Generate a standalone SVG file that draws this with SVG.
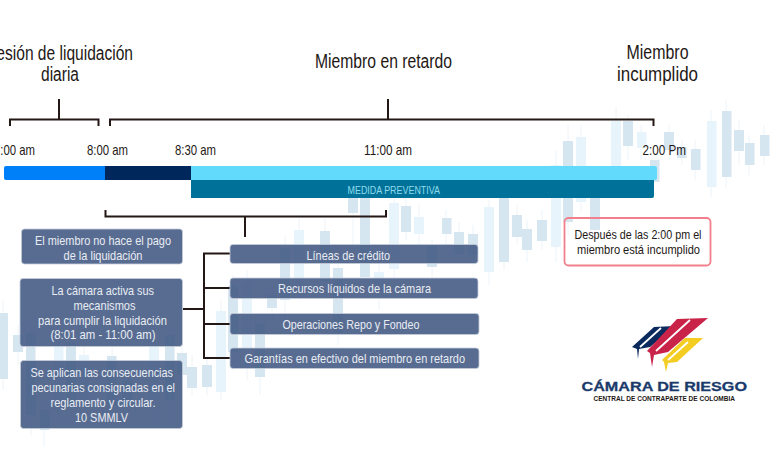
<svg xmlns="http://www.w3.org/2000/svg" width="773" height="471" viewBox="0 0 773 471">
<style>
text{font-family:"Liberation Sans",Arial,sans-serif;text-anchor:start}
.d{fill:#d6e6f1}
.l{fill:#e8f4fb}
.w{stroke:#eef4f9;stroke-width:1;fill:none}
.title{font-size:19.500px;fill:#231815}
.time{font-size:15px;fill:#231815}
.box{fill:#3c5480;fill-opacity:.86;stroke:#c5cdd9;stroke-width:.8}
.bt{font-size:13.500px;fill:#e9edf3}
.line{stroke:#231815;stroke-width:2;fill:none}
.rt{font-size:13px;fill:#231815}
</style>
<rect width="773" height="471" fill="#ffffff"/>
<g id="background">
<path class="w" d="M616 107V190M628 115V160M641 125V160M669 125V160M682 140V165M695 140V180M711 110V197M726 100V188M739 120V165M749 135V175M764 125V165M568 125V235M581 125V212M595 190V240M556 150V262M542 210V250M527 220V262M517 205V245M504 190V270M489 200V285M473 225V265M459 222V262M446 210V245M432 240V280M419 205V245M406 195V240M394 195V280M353 190V245M365 190V290M299 215V300M325 218V295M285 235V320M272 285V320M338 260V345M379 260V310M233 275V370M247 270V380M260 315V395M221 300V400M207 355V395M3 300V390M18 325V365M31 320V435M44 400V447M58 330V425M71 335V420M84 345V400M112 345V410M127 370V420M154 365V420M170 325V420M182 345V385M192 355V395"/>
<rect class="l" x="611" y="121" width="10" height="46"/>
<rect class="d" x="623" y="121" width="10" height="25"/>
<rect class="l" x="637" y="132" width="9.500" height="16"/>
<rect class="d" x="664" y="132" width="10" height="18"/>
<rect class="d" x="677" y="147" width="9.500" height="11"/>
<rect class="d" x="691" y="149" width="9.500" height="21"/>
<rect class="l" x="707" y="121" width="9.500" height="66"/>
<rect class="d" x="722" y="111" width="9.500" height="66"/>
<rect class="d" x="734" y="130" width="10" height="21"/>
<rect class="d" x="745" y="143" width="9.500" height="22"/>
<rect class="d" x="760" y="135" width="9.500" height="21"/>
<rect class="d" x="650" y="160" width="9.500" height="22"/>
<rect class="d" x="563" y="141" width="10" height="81"/>
<rect class="l" x="576" y="137" width="10" height="65"/>
<rect class="d" x="590" y="190" width="10" height="40"/>
<rect class="l" x="551" y="165" width="10" height="82"/>
<rect class="d" x="537" y="220" width="10" height="21"/>
<rect class="d" x="522" y="229" width="10" height="21"/>
<rect class="d" x="512" y="215" width="10" height="22"/>
<rect class="d" x="499" y="198" width="10" height="64"/>
<rect class="l" x="484" y="207" width="10" height="65"/>
<rect class="d" x="468" y="234" width="10" height="21"/>
<rect class="d" x="454" y="232" width="10" height="22"/>
<rect class="d" x="442" y="218" width="9.500" height="16"/>
<rect class="d" x="427" y="246" width="10" height="21"/>
<rect class="l" x="414" y="217" width="10" height="17"/>
<rect class="d" x="401" y="206" width="10" height="26"/>
<rect class="l" x="389" y="203" width="10" height="66"/>
<rect class="d" x="348" y="198" width="10" height="15"/>
<rect class="d" x="360" y="198" width="10" height="79"/>
<rect class="l" x="294" y="230" width="10" height="57"/>
<rect class="d" x="320" y="231" width="10" height="50"/>
<rect class="d" x="280" y="248" width="10" height="52"/>
<rect class="d" x="267" y="295" width="10" height="13"/>
<rect class="d" x="333" y="268" width="10" height="65"/>
<rect class="l" x="374" y="272" width="10" height="18"/>
<rect class="d" x="228" y="286" width="10" height="66"/>
<rect class="l" x="242" y="283" width="10" height="67"/>
<rect class="d" x="255" y="324" width="10" height="53"/>
<rect class="l" x="216" y="311" width="10" height="81"/>
<rect class="d" x="202" y="365" width="10" height="22"/>
<rect class="d" x="0" y="313" width="8" height="66"/>
<rect class="d" x="13" y="335" width="10" height="17"/>
<rect class="d" x="26" y="333" width="9.500" height="82"/>
<rect class="d" x="40" y="410" width="9.500" height="20"/>
<rect class="l" x="54" y="345" width="9.500" height="65"/>
<rect class="d" x="66" y="343" width="10" height="65"/>
<rect class="l" x="79" y="355" width="10" height="45"/>
<rect class="d" x="107" y="356" width="9.500" height="50"/>
<rect class="d" x="122" y="380" width="10" height="25"/>
<rect class="l" x="149" y="345" width="10" height="55"/>
<rect class="d" x="165" y="335" width="9.500" height="65"/>
<rect class="d" x="177" y="353" width="10" height="22"/>
<rect class="d" x="187" y="367" width="10" height="21"/>
</g>
<g id="connectors">
<path class="line" d="M10 126V119.500H98.500V126M59 99V119.500"/>
<path class="line" d="M110 126V119.500H653.500V126M388 99V119.500"/>
<path class="line" d="M105.500 210V216.500H386V210M245 216.500V237"/>
<path class="line" d="M183 309H204M230 253.500H204V358H230M204 288H230M204 324H230"/>
</g>
<g id="titles">
<text class="title" x="-14" y="60" textLength="147" lengthAdjust="spacingAndGlyphs">Sesión de liquidación</text>
<text class="title" x="41" y="81" textLength="38" lengthAdjust="spacingAndGlyphs">diaria</text>
<text class="title" x="315" y="68" textLength="137" lengthAdjust="spacingAndGlyphs">Miembro en retardo</text>
<text class="title" x="626.500" y="59" textLength="62" lengthAdjust="spacingAndGlyphs">Miembro</text>
<text class="title" x="617" y="80.500" textLength="81" lengthAdjust="spacingAndGlyphs">incumplido</text>
</g>
<g id="times">
<text class="time" x="-6" y="155" textLength="41" lengthAdjust="spacingAndGlyphs">7:00 am</text>
<text class="time" x="87" y="155" textLength="41" lengthAdjust="spacingAndGlyphs">8:00 am</text>
<text class="time" x="175" y="155" textLength="41" lengthAdjust="spacingAndGlyphs">8:30 am</text>
<text class="time" x="364" y="155" textLength="48" lengthAdjust="spacingAndGlyphs">11:00 am</text>
<text class="time" x="642.500" y="155" textLength="43.500" lengthAdjust="spacingAndGlyphs">2:00 Pm</text>
</g>
<g id="timeline">
<path d="M6 166H105V180H6Q4 180 4 178V168Q4 166 6 166Z" fill="#0080f8"/>
<rect x="105" y="166" width="86" height="14" fill="#00275c"/>
<path d="M191 166H655Q657 166 657 168V178Q657 180 655 180H191Z" fill="#62dafb"/>
<path d="M191 180H654V196Q654 198 652 198H191Z" fill="#007199"/>
<text x="347.500" y="193.500" font-size="11" fill="#8fdcec" textLength="92.500" lengthAdjust="spacingAndGlyphs">MEDIDA PREVENTIVA</text>
</g>
<g id="box-pago">
<rect class="box" x="21.500" y="229" width="161" height="35" rx="3"/>
<text class="bt" x="35" y="244.500" textLength="136" lengthAdjust="spacingAndGlyphs">El miembro no hace el pago</text>
<text class="bt" x="63.500" y="259.500" textLength="79" lengthAdjust="spacingAndGlyphs">de la liquidación</text>
</g>
<g id="box-mecanismos">
<rect class="box" x="20" y="278.500" width="162.500" height="68" rx="3"/>
<text class="bt" x="51.500" y="294.500" textLength="102.500" lengthAdjust="spacingAndGlyphs">La cámara activa sus</text>
<text class="bt" x="73.500" y="309.500" textLength="62" lengthAdjust="spacingAndGlyphs">mecanismos</text>
<text class="bt" x="38" y="324.500" textLength="129" lengthAdjust="spacingAndGlyphs">para cumplir la liquidación</text>
<text class="bt" x="50.500" y="339" textLength="105" lengthAdjust="spacingAndGlyphs">(8:01 am - 11:00 am)</text>
</g>
<g id="box-consecuencias">
<rect class="box" x="20.500" y="360.500" width="162" height="68" rx="3"/>
<text class="bt" x="30.500" y="377" textLength="142.500" lengthAdjust="spacingAndGlyphs">Se aplican las consecuencias</text>
<text class="bt" x="31.500" y="392" textLength="143.500" lengthAdjust="spacingAndGlyphs">pecunarias consignadas en el</text>
<text class="bt" x="50.500" y="406.500" textLength="105" lengthAdjust="spacingAndGlyphs">reglamento y circular.</text>
<text class="bt" x="75" y="421.500" textLength="53" lengthAdjust="spacingAndGlyphs">10 SMMLV</text>
</g>
<g id="box-lineas">
<rect class="box" x="230" y="244.500" width="248" height="19" rx="3"/>
<text class="bt" x="306.500" y="259.500" textLength="83.500" lengthAdjust="spacingAndGlyphs">Líneas de crédito</text>
</g>
<g id="box-recursos">
<rect class="box" x="230" y="278" width="248" height="20.500" rx="3"/>
<text class="bt" x="278" y="293" textLength="153" lengthAdjust="spacingAndGlyphs">Recursos líquidos de la cámara</text>
</g>
<g id="box-repo">
<rect class="box" x="230" y="313.500" width="249" height="21" rx="3"/>
<text class="bt" x="282.500" y="328.500" textLength="137" lengthAdjust="spacingAndGlyphs">Operaciones Repo y Fondeo</text>
</g>
<g id="box-garantias">
<rect class="box" x="230" y="348" width="249" height="20.500" rx="3"/>
<text class="bt" x="244.500" y="362.500" textLength="220.500" lengthAdjust="spacingAndGlyphs">Garantías en efectivo del miembro en retardo</text>
</g>
<g id="box-incumplido">
<rect x="564.500" y="218" width="146" height="47.500" rx="4" fill="none" stroke="#f2808c" stroke-width="1.800"/>
<text class="rt" x="574.500" y="239" textLength="127" lengthAdjust="spacingAndGlyphs">Después de las 2:00 pm el</text>
<text class="rt" x="577" y="254" textLength="123" lengthAdjust="spacingAndGlyphs">miembro está incumplido</text>
</g>
<g id="logo">
<path d="M632 347L654 327L675 326L650 347L639 349L638 359L637 349Z" fill="#0a2a5e"/>
<path d="M647 351L677 319L708 318L668 352L654 355L652 367L650 353Z" fill="#c9234a"/>
<path d="M662 360L685 338L703 338L677 362L668 363L666 372L664 362Z" fill="#f4cd22"/>
<path d="M640 347L661 328M656 351L690 320M668 360L688 342" stroke="#ffffff" stroke-width="1.800" fill="none"/>
<text x="581.500" y="391" font-size="13.500" font-weight="700" fill="#1a3a6b" stroke="#1a3a6b" stroke-width=".3" textLength="165.500" lengthAdjust="spacingAndGlyphs">CÁMARA DE RIESGO</text>
<text x="593.500" y="401" font-size="7" font-weight="700" fill="#231815" textLength="141.500" lengthAdjust="spacingAndGlyphs">CENTRAL DE CONTRAPARTE DE COLOMBIA</text>
</g>
</svg>
